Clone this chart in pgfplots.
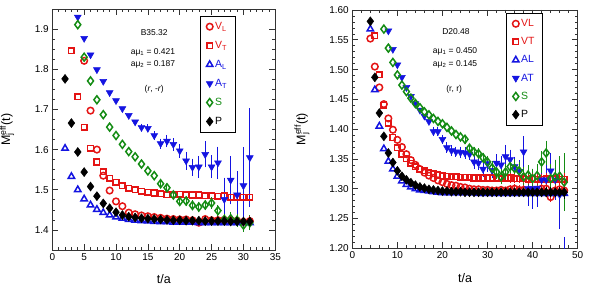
\documentclass[border=0pt]{standalone}
\usepackage{fontspec}
\setmainfont{Liberation Sans}
\usepackage{pgfplots}
\usepackage{pgfplotstable}
\pgfplotsset{compat=1.18}
\definecolor{cR}{RGB}{228,20,20}
\definecolor{cB}{RGB}{20,20,225}
\definecolor{cG}{RGB}{20,140,20}

% ---------------- left panel data (B35.32) ----------------
\pgfplotstableread{
t m e
5 1.821 0
6 1.697 0
7 1.600 0
8 1.535 0
9 1.498 0
10 1.471 0
11 1.459 0
12 1.443 0
13 1.439 0
14 1.436 0
15 1.434 0
16 1.432 0
17 1.430 0
18 1.428 0
19 1.427 0.003
20 1.426 0.003
21 1.426 0.003
22 1.424 0.003
23 1.418 0.004
24 1.427 0.004
25 1.424 0.004
26 1.424 0.004
27 1.425 0.005
28 1.424 0.005
29 1.423 0.006
30 1.420 0.006
31 1.422 0.007
}\aVL
\pgfplotstableread{
t m
3 1.846
4 1.732
5 1.656
6 1.603
7 1.569
8 1.545
9 1.529
10 1.519
11 1.510
12 1.504
13 1.500
14 1.496
15 1.494
16 1.492
17 1.490
18 1.488
19 1.488
20 1.489
21 1.488
22 1.487
23 1.487
24 1.485
25 1.485
26 1.484
27 1.485
28 1.481
29 1.482
30 1.481
31 1.481
}\aVT
\pgfplotstableread{
t m
2 1.603
3 1.533
4 1.500
5 1.477
6 1.462
7 1.451
8 1.443
9 1.437
10 1.432
11 1.429
12 1.426
13 1.424
14 1.423
15 1.422
16 1.421
17 1.420
18 1.420
19 1.419
20 1.419
21 1.419
22 1.419
23 1.418
24 1.418
25 1.418
26 1.418
27 1.418
28 1.418
29 1.418
30 1.418
31 1.418
}\aAL
\pgfplotstableread{
t m e
4 1.930 0
5 1.877 0
6 1.836 0
7 1.799 0
8 1.770 0
9 1.742 0
10 1.722 0
11 1.702 0
12 1.685 0
13 1.669 0
14 1.655 0.004
15 1.653 0.005
16 1.635 0.005
17 1.615 0.007
18 1.621 0.010
19 1.613 0.010
20 1.597 0.012
21 1.572 0.017
22 1.556 0.016
23 1.557 0.022
24 1.588 0.027
25 1.557 0.023
26 1.567 0.035
27 1.476 0.049
28 1.524 0.055
29 1.487 0.054
30 1.510 0.090
31 1.580 0.117
}\aAT
\pgfplotstableread{
t m e
4 1.911 0
5 1.830 0
6 1.771 0
7 1.724 0
8 1.687 0
9 1.656 0
10 1.635 0
11 1.613 0
12 1.595 0
13 1.582 0
14 1.564 0
15 1.547 0
16 1.535 0
17 1.515 0.005
18 1.505 0.005
19 1.487 0.005
20 1.471 0.007
21 1.472 0.007
22 1.461 0.007
23 1.457 0.008
24 1.462 0.008
25 1.467 0.009
26 1.448 0.009
27 1.426 0.009
28 1.428 0.010
29 1.424 0.011
30 1.412 0.011
31 1.418 0.013
}\aS
\pgfplotstableread{
t m
2 1.776
3 1.666
4 1.594
5 1.544
6 1.508
7 1.484
8 1.466
9 1.454
10 1.444
11 1.437
12 1.433
13 1.431
14 1.429
15 1.428
16 1.427
17 1.426
18 1.425
19 1.424
20 1.424
21 1.423
22 1.423
23 1.423
24 1.422
25 1.422
26 1.422
27 1.422
28 1.421
29 1.421
30 1.421
31 1.421
}\aP

% ---------------- right panel data (D20.48) ----------------
\pgfplotstableread{
t m e
4 1.552 0
5 1.505 0
6 1.470 0
7 1.442 0
8 1.418 0
9 1.399 0
10 1.382 0
11 1.370 0
12 1.358 0
13 1.348 0
14 1.340 0
15 1.333 0
16 1.327 0
17 1.322 0
18 1.318 0
19 1.314 0
20 1.311 0
21 1.308 0
22 1.306 0
23 1.305 0
24 1.303 0
25 1.302 0
26 1.300 0
27 1.299 0
28 1.299 0
29 1.298 0
30 1.298 0
31 1.297 0
32 1.297 0
33 1.298 0
34 1.297 0
35 1.299 0.004
36 1.300 0.004
37 1.298 0.004
38 1.298 0.004
39 1.297 0.004
40 1.296 0.005
41 1.298 0.005
42 1.300 0.005
43 1.300 0.005
44 1.286 0.005
45 1.297 0.006
46 1.299 0.006
47 1.297 0.007
}\bVL
\pgfplotstableread{
t m e
5 1.557 0
6 1.491 0
7 1.440 0
8 1.410 0
9 1.386 0
10 1.369 0
11 1.358 0
12 1.350 0
13 1.343 0
14 1.337 0
15 1.333 0
16 1.330 0
17 1.327 0
18 1.325 0
19 1.323 0
20 1.322 0
21 1.321 0
22 1.320 0
23 1.320 0
24 1.319 0
25 1.319 0
26 1.319 0
27 1.318 0
28 1.318 0
29 1.318 0
30 1.318 0
31 1.318 0
32 1.318 0
33 1.317 0
34 1.318 0
35 1.318 0.004
36 1.317 0.004
37 1.317 0.004
38 1.317 0.004
39 1.316 0.004
40 1.317 0.005
41 1.316 0.005
42 1.316 0.005
43 1.317 0.005
44 1.316 0.005
45 1.317 0.006
46 1.316 0.006
47 1.316 0.007
}\bVT
\pgfplotstableread{
t m
4 1.568
5 1.466
6 1.405
7 1.367
8 1.346
9 1.333
10 1.321
11 1.313
12 1.307
13 1.303
14 1.300
15 1.298
16 1.297
17 1.296
18 1.295
19 1.294
20 1.293
21 1.293
22 1.293
23 1.293
24 1.293
25 1.293
26 1.293
27 1.293
28 1.292
29 1.292
30 1.292
31 1.292
32 1.292
33 1.292
34 1.292
35 1.292
36 1.292
37 1.292
38 1.292
39 1.292
40 1.292
41 1.292
42 1.292
43 1.292
44 1.292
45 1.292
46 1.292
47 1.292
}\bAL
\pgfplotstableread{
t m e
8 1.565 0
9 1.534 0
10 1.508 0
11 1.487 0
12 1.470 0
13 1.455 0
14 1.443 0
15 1.432 0
16 1.422 0
17 1.413 0
18 1.396 0.004
19 1.396 0.004
20 1.383 0.004
21 1.369 0.005
22 1.364 0.005
23 1.362 0.005
24 1.361 0.006
25 1.360 0.006
26 1.358 0.006
27 1.345 0.008
28 1.343 0.008
29 1.333 0.009
30 1.342 0.010
31 1.331 0.010
32 1.343 0.011
33 1.340 0.012
34 1.354 0.016
35 1.349 0.013
36 1.337 0.013
37 1.329 0.015
38 1.362 0.022
39 1.300 0.025
40 1.300 0.030
41 1.301 0.028
42 1.315 0.025
43 1.315 0.025
44 1.330 0.026
45 1.315 0.030
46 1.290 0.054
47 1.160 0.055
}\bAT
\pgfplotstableread{
t m e
7 1.568 0
8 1.536 0
9 1.512 0
10 1.491 0
11 1.474 0
12 1.463 0
13 1.452 0
14 1.443 0
15 1.436 0
16 1.429 0
17 1.424 0
18 1.418 0
19 1.413 0
20 1.409 0
21 1.403 0
22 1.397 0
23 1.391 0
24 1.387 0
25 1.383 0.004
26 1.368 0.004
27 1.362 0.004
28 1.359 0.005
29 1.352 0.005
30 1.345 0.006
31 1.335 0.008
32 1.328 0.008
33 1.320 0.009
34 1.328 0.009
35 1.337 0.010
36 1.334 0.012
37 1.330 0.012
38 1.320 0.012
39 1.323 0.013
40 1.317 0.013
41 1.322 0.015
42 1.345 0.015
43 1.360 0.017
44 1.317 0.020
45 1.320 0.025
46 1.321 0.030
47 1.311 0.045
}\bS
\pgfplotstableread{
t m e
4 1.581 0
5 1.487 0
6 1.427 0
7 1.388 0
8 1.360 0
9 1.344 0
10 1.330 0
11 1.321 0
12 1.315 0
13 1.310 0
14 1.306 0
15 1.303 0
16 1.301 0
17 1.299 0
18 1.298 0
19 1.297 0
20 1.296 0
21 1.296 0
22 1.295 0
23 1.295 0
24 1.295 0
25 1.294 0
26 1.294 0
27 1.294 0
28 1.294 0
29 1.294 0
30 1.294 0
31 1.294 0
32 1.294 0
33 1.294 0
34 1.294 0
35 1.294 0
36 1.294 0
37 1.294 0
38 1.294 0
39 1.294 0
40 1.294 0.004
41 1.294 0.004
42 1.294 0.004
43 1.294 0.005
44 1.294 0.005
45 1.294 0.005
46 1.294 0.006
47 1.294 0.007
}\bP

\pgfplotsset{
  panel/.style={
    scale only axis,
    axis line style={line width=0.8pt, black!80},
    tick align=inside,
    xtick pos=both, ytick pos=both,
    major tick length=6bp, minor tick length=3bp,
    every tick/.style={black!80, line width=0.6pt},
    tick label style={font=\fontsize{10}{12}\selectfont},
    /pgf/number format/assume math mode=true,
    label style={font=\fontsize{12.5}{14}\selectfont},
    legend cell align=left,
    legend style={draw=black, line width=0.7pt, fill=white,
      font=\fontsize{10.5}{12}\selectfont, inner xsep=6pt, inner ysep=4pt,
      /tikz/every even column/.append style={column sep=4pt}},
    legend image code/.code={\draw[mark repeat=2,mark phase=2] plot coordinates {(0cm,0cm) (0.22cm,0cm) (0.44cm,0cm)};},
  },
  om/.style={only marks, mark options={line width=1.5pt, solid}},
  ebar/.style={forget plot, draw=none, mark=none,
    /pgfplots/error bars/y dir=both,
    /pgfplots/error bars/y explicit,
    /pgfplots/error bars/error mark=-,
    /pgfplots/error bars/error mark options={line width=1pt, mark size=2.2pt, #1},
    /pgfplots/error bars/error bar style={line width=1pt, #1, solid}},
}

\begin{document}
\begin{tikzpicture}
\path[use as bounding box] (0,0) rectangle (590bp,293bp);

% ================= LEFT =================
\begin{axis}[panel,
  at={(52.3bp,43bp)}, anchor=south west,
  width=223bp, height=241bp,
  xmin=0, xmax=35, ymin=1.35, ymax=1.95,
  xtick={0,5,10,15,20,25,30,35}, minor x tick num=4,
  ytick={1.4,1.5,1.6,1.7,1.8,1.9}, minor y tick num=3,
  yticklabel style={/pgf/number format/.cd, fixed, fixed zerofill, precision=1},
  xlabel={t/a},
  ylabel={M\rlap{\textsubscript{j}}\textsuperscript{eff}(t)},
  xlabel style={at={(axis description cs:0.5,-0.085)}, anchor=north},
  ylabel style={at={(axis description cs:-0.155,0.5)}, anchor=south},
  legend style={at={(0.662,0.971)}, anchor=north west, row sep=6.3pt},
]
% error bars
\addplot[ebar=cB, restrict x to domain=14:31] table[x=t,y=m,y error=e]{\aAT};
\addplot[ebar=cG, restrict x to domain=17:31] table[x=t,y=m,y error=e]{\aS};
\addplot[ebar=cR, restrict x to domain=19:31] table[x=t,y=m,y error=e]{\aVL};
% markers
\addplot[om, mark=o, mark size=3.3pt, cR] table[x=t,y=m]{\aVL};
\addlegendentry{\textcolor{cR}{V\textsubscript{L}}}
\addplot[om, mark=square, mark size=2.8pt, cR] table[x=t,y=m]{\aVT};
\addlegendentry{\textcolor{cR}{V\textsubscript{T}}}
\addplot[om, mark=triangle, mark size=3.7pt, cB] table[x=t,y=m]{\aAL};
\addlegendentry{\textcolor{cB}{A\textsubscript{L}}}
\addplot[om, mark=triangle*, mark size=4pt, mark options={rotate=180, line width=0.5pt}, cB] table[x=t,y=m]{\aAT};
\addlegendentry{\textcolor{cB}{A\textsubscript{T}}}
\addplot[om, mark=diamond, mark size=4pt, cG] table[x=t,y=m]{\aS};
\addlegendentry{\textcolor{cG}{S}}
\addplot[om, mark=diamond*, mark size=4.5pt, mark options={line width=0.5pt}, black] table[x=t,y=m]{\aP};
\addlegendentry{P}
\node[font=\fontsize{8.5}{10}\selectfont] at (axis cs:16.0,1.891) {B35.32};
\node[font=\fontsize{8.5}{10}\selectfont] at (axis cs:15.8,1.843) {aμ\textsubscript{1} = 0.421};
\node[font=\fontsize{8.5}{10}\selectfont] at (axis cs:15.8,1.813) {aμ\textsubscript{2} = 0.187};
\node[font=\fontsize{8.5}{10}\selectfont] at (axis cs:16.0,1.751) {(\textit{r}, -\textit{r})};
\end{axis}

% ================= RIGHT =================
\begin{axis}[panel,
  at={(352.3bp,44.7bp)}, anchor=south west,
  width=225.4bp, height=238.3bp,
  xmin=0, xmax=50, ymin=1.2, ymax=1.6,
  xtick={0,10,20,30,40,50}, minor x tick num=4,
  ytick={1.20,1.25,1.30,1.35,1.40,1.45,1.50,1.55,1.60}, minor y tick num=4,
  yticklabel style={/pgf/number format/.cd, fixed, fixed zerofill, precision=2},
  xlabel={t/a},
  ylabel={M\rlap{\textsubscript{j}}\textsuperscript{eff}(t)},
  xlabel style={at={(axis description cs:0.5,-0.09)}, anchor=north},
  ylabel style={at={(axis description cs:-0.175,0.5)}, anchor=south},
  legend style={at={(0.682,0.987)}, anchor=north west, row sep=5.5pt},
]
\addplot[ebar=cB, restrict x to domain=18:47] table[x=t,y=m,y error=e]{\bAT};
\addplot[ebar=cG, restrict x to domain=25:47] table[x=t,y=m,y error=e]{\bS};
\addplot[ebar=cR, restrict x to domain=35:47] table[x=t,y=m,y error=e]{\bVL};
\addplot[ebar=cR, restrict x to domain=35:47] table[x=t,y=m,y error=e]{\bVT};
\addplot[ebar=black, restrict x to domain=40:47] table[x=t,y=m,y error=e]{\bP};
\addplot[om, mark=o, mark size=3.3pt, cR] table[x=t,y=m]{\bVL};
\addlegendentry{\textcolor{cR}{VL}}
\addplot[om, mark=square, mark size=2.8pt, cR] table[x=t,y=m]{\bVT};
\addlegendentry{\textcolor{cR}{VT}}
\addplot[om, mark=triangle, mark size=3.7pt, cB] table[x=t,y=m]{\bAL};
\addlegendentry{\textcolor{cB}{AL}}
\addplot[om, mark=triangle*, mark size=4pt, mark options={rotate=180, line width=0.5pt}, cB] table[x=t,y=m]{\bAT};
\addlegendentry{\textcolor{cB}{AT}}
\addplot[om, mark=diamond, mark size=4pt, cG] table[x=t,y=m]{\bS};
\addlegendentry{\textcolor{cG}{S}}
\addplot[om, mark=diamond*, mark size=4.5pt, mark options={line width=0.5pt}, black] table[x=t,y=m]{\bP};
\addlegendentry{P}
\node[font=\fontsize{8.5}{10}\selectfont] at (axis cs:23.0,1.563) {D20.48};
\node[font=\fontsize{8.5}{10}\selectfont] at (axis cs:22.8,1.531) {aμ\textsubscript{1} = 0.450};
\node[font=\fontsize{8.5}{10}\selectfont] at (axis cs:22.8,1.509) {aμ\textsubscript{2} = 0.145};
\node[font=\fontsize{8.5}{10}\selectfont] at (axis cs:22.6,1.467) {(r, r)};
\end{axis}
\end{tikzpicture}
\end{document}
